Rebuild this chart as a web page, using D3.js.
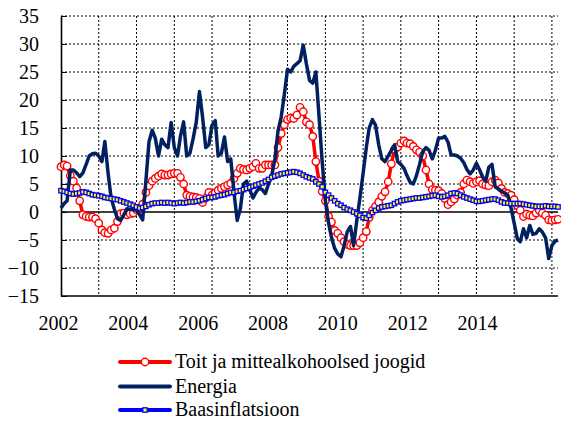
<!DOCTYPE html>
<meta charset="utf-8">
<head>
    <title>Inflatsioon</title>
</head>
<style>
    body { margin: 0; background: #fff; }
    #chart svg text { font-family: "Liberation Serif", serif !important; font-size: 20px !important; }
</style>
<div id="chart"></div>
<script src="https://d3js.org/d3.v7.min.js"></script>
<script>
    // monthly series, Jan 2002 .. Mar 2015
    var startMonth = new Date(2002, 0, 1);

    var food = [
        8.1, 8.4, 8.2, 6.5, 5.5, 4.3, 2.0, -0.5, -0.8, -0.9, -0.9, -1.2,
        -2.0, -3.2, -3.7, -3.8, -3.2, -2.9, -1.7, -0.3, -0.2, -0.5, -0.3, -0.2,
        0.4, 0.7, 1.4, 3.5, 4.7, 5.5, 6.0, 6.4, 6.8, 6.6, 6.6, 6.8,
        6.9, 6.9, 6.2, 5.0, 3.0, 2.8, 2.7, 2.6, 2.4, 1.7, 2.5, 3.5,
        3.0, 3.4, 3.9, 4.2, 4.5, 4.8, 5.1, 6.0, 6.9, 7.8, 7.6, 7.5,
        7.8, 8.1, 8.7, 7.8, 7.8, 8.4, 8.4, 8.4, 8.4, 11.5, 14.0, 15.6,
        16.5, 16.8, 16.7, 17.3, 18.7, 17.9, 16.1, 15.6, 13.5, 9.0, 5.5, 3.7,
        2.0, -0.8, -1.8, -3.3, -3.8, -4.6, -5.3, -5.8, -6.0, -6.0, -6.0, -5.5,
        -4.6, -3.5, -1.0, 0.3, 1.0, 1.8, 2.8, 3.6, 5.4, 8.6, 11.2, 11.6,
        12.3, 12.7, 12.3, 12.2, 11.7, 11.1, 10.7, 10.0, 7.5, 5.0, 4.0, 3.9,
        3.8, 3.3, 2.4, 1.3, 1.8, 2.3, 3.0, 3.5, 5.0, 5.7, 5.4, 5.1,
        5.4, 5.6, 5.0, 4.8, 4.7, 5.4, 5.7, 5.2, 4.2, 3.5, 3.3, 3.0,
        2.2, 1.2, 0.3, -0.8, -0.4, -0.6, -0.7, -0.2, 0.3, -0.2, -0.6, -1.4,
        -1.5, -1.4, -1.3
    ];

    var energy = [
        0.7, 1.5, 2.0, 7.5, 7.5, 7.0, 6.3, 7.0, 8.5, 10.0, 10.4, 10.5,
        10.0, 9.0, 12.6, 7.0, 2.5, 0.5, -1.2, -1.5, -0.5, 0.6, 0.5, 0.4,
        0.3, -0.5, -1.4, 5.5, 12.5, 14.6, 13.2, 10.0, 13.0, 12.0, 11.5, 16.0,
        11.5, 10.0, 13.5, 16.1, 10.0, 10.5, 13.0, 16.0, 21.5, 17.0, 11.5, 12.0,
        15.5, 16.3, 10.0, 10.5, 13.4, 9.0, 9.5, 3.5, -1.5, 0.5, 5.0, 5.5,
        4.0, 2.5, 3.5, 4.3, 4.0, 3.3, 5.0, 6.5, 9.5, 14.5, 17.0, 21.0,
        25.5, 25.0, 26.0, 26.5, 27.0, 29.8, 26.5, 23.5, 23.0, 25.0, 17.0, 9.0,
        2.0, -2.0, -4.5, -6.5, -7.5, -8.0, -6.0, -3.5, -2.6, -6.0, -1.5, 2.5,
        6.9, 11.5, 15.0, 16.5, 15.5, 12.0, 9.5, 9.0, 10.0, 11.0, 12.0, 9.0,
        8.5, 7.8, 6.5, 5.3, 5.0, 6.5, 8.5, 10.8, 11.5, 11.0, 9.5, 11.0,
        13.2, 13.2, 13.5, 12.5, 10.2, 10.2, 10.0, 9.6, 8.8, 7.6, 6.8, 7.5,
        8.7, 7.5, 6.3, 5.5, 8.0, 8.5, 4.5, 4.1, 3.7, 3.4, 3.0, 0.8,
        -2.0, -4.8, -5.3, -3.0, -4.6, -2.4, -4.0, -3.8, -3.0, -3.6, -4.6, -8.3,
        -6.0, -5.2, -5.0
    ];

    var core = [
        3.8, 3.7, 3.5, 3.3, 3.2, 3.3, 3.4, 3.6, 3.5, 3.3, 3.1, 3.0,
        2.9, 2.8, 2.6, 2.5, 2.4, 2.3, 2.2, 2.0, 1.8, 1.6, 1.4, 1.2,
        0.9, 0.7, 0.8, 1.0, 1.3, 1.5, 1.6, 1.6, 1.7, 1.6, 1.7, 1.6,
        1.5, 1.6, 1.7, 1.6, 1.7, 1.8, 1.8, 1.9, 2.0, 2.2, 2.4, 2.6,
        2.6, 2.7, 2.9, 3.0, 3.1, 3.3, 3.5, 3.5, 3.7, 3.8, 4.0, 4.2,
        4.4, 4.6, 4.8, 5.0, 5.2, 5.5, 5.8, 6.2, 6.4, 6.6, 6.8, 6.9,
        7.0, 7.1, 7.2, 7.1, 6.9, 6.6, 6.3, 6.1, 5.9, 5.4, 5.0, 4.5,
        3.5, 3.0, 2.5, 2.0, 1.5, 1.2, 0.8, 0.5, 0.3, 0.0, -0.3, -0.6,
        -1.0, -1.1, -0.6, -0.1, 0.3, 0.7, 0.9, 1.0, 1.1, 1.2, 1.5, 1.8,
        2.0, 2.1, 2.2, 2.3, 2.4, 2.5, 2.5, 2.6, 2.7, 2.8, 2.9, 3.0,
        2.8, 2.7, 2.8, 3.0, 3.3, 3.4, 3.3, 3.0, 2.7, 2.5, 2.3, 2.1,
        1.9, 1.9, 2.0, 2.1, 2.2, 2.3, 2.3, 2.1, 1.8, 1.6, 1.6, 1.5,
        1.5, 1.5, 1.5, 1.4, 1.3, 1.2, 1.1, 1.0, 1.0, 1.0, 1.1, 1.0,
        1.0, 1.0, 0.9
    ];

    var yTicks = [35, 30, 25, 20, 15, 10, 5, 0, -5, -10, -15];
    var xLabels = ["2002", "2004", "2006", "2008", "2010", "2012", "2014"];

    var seriesNames = ["Toit ja mittealkohoolsed joogid", "Energia", "Baasinflatsioon"];

    var months = food.map(function(d, i) { return d3.timeMonth.offset(startMonth, i); });

    var W = 561, H = 423;
    var margin = {top: 16, right: 3, bottom: 127, left: 61},
        width = W - margin.left - margin.right,
        height = H - margin.top - margin.bottom;

    var svg = d3.select("#chart")
      .append("svg")
        .attr("width", W)
        .attr("height", H);

    var g = svg.append("g")
        .attr("transform", "translate(" + margin.left + "," + margin.top + ")");

    var x = d3.scaleTime()
        .domain([months[0], months[months.length - 1]])
        .range([0, width]);

    var y = d3.scaleLinear()
        .domain([-15, 35])
        .range([height, 0]);

    // year gridlines
    g.append("g")
        .selectAll("line")
        .data(d3.timeYear.range(new Date(2003, 0, 1), months[months.length - 1]))
        .enter().append("line")
          .attr("x1", function(d) { return x(d); })
          .attr("x2", function(d) { return x(d); })
          .attr("y1", 0)
          .attr("y2", height)
          .attr("stroke", "#000")
          .attr("stroke-width", 1)
          .attr("stroke-dasharray", "2,2");

    g.append("g")
        .selectAll("line")
        .data(yTicks.filter(function(v) { return v !== 0 && v !== -15; }))
        .enter().append("line")
          .attr("x1", 0)
          .attr("x2", width)
          .attr("y1", function(d) { return y(d); })
          .attr("y2", function(d) { return y(d); })
          .attr("stroke", "#000")
          .attr("stroke-width", 1)
          .attr("stroke-dasharray", "2,2");

    // zero line
    g.append("line")
        .attr("x1", 0).attr("x2", width)
        .attr("y1", y(0)).attr("y2", y(0))
        .attr("stroke", "#000")
        .attr("stroke-width", 1.3);

    // y axis
    var yAxis = g.append("g")
        .call(d3.axisLeft(y).tickValues(yTicks).tickSizeInner(-6).tickSizeOuter(0).tickPadding(22));
    yAxis.select(".domain").attr("stroke-width", 1.6);

    // bottom frame
    g.append("line")
        .attr("x1", 0).attr("x2", width)
        .attr("y1", height).attr("y2", height)
        .attr("stroke", "#000")
        .attr("stroke-width", 1.6);

    // x labels (spread evenly, as in the original)
    var xl = d3.scalePoint().domain(xLabels).range([58 - margin.left, 477 - margin.left]);
    var xAxis = g.append("g")
        .attr("transform", "translate(0," + height + ")")
        .call(d3.axisBottom(xl).tickSize(0).tickPadding(20));
    xAxis.select(".domain").remove();

    var line = d3.line()
        .x(function(d, i) { return x(months[i]); })
        .y(function(d) { return y(d); });

    // food
    g.append("path")
        .datum(food)
        .attr("fill", "none")
        .attr("stroke", "#ff0000")
        .attr("stroke-width", 3.5)
        .attr("d", line);
    g.append("g")
        .selectAll("circle")
        .data(food)
        .enter().append("circle")
          .attr("cx", function(d, i) { return x(months[i]); })
          .attr("cy", function(d) { return y(d); })
          .attr("r", 3.7)
          .attr("fill", "#fff")
          .attr("stroke", "#ff0000")
          .attr("stroke-width", 1.4);

    // energy
    g.append("path")
        .datum(energy)
        .attr("fill", "none")
        .attr("stroke", "#002060")
        .attr("stroke-width", 3.5)
        .attr("stroke-linejoin", "round")
        .attr("d", line);

    // core
    g.append("path")
        .datum(core)
        .attr("fill", "none")
        .attr("stroke", "#0000ff")
        .attr("stroke-width", 3.5)
        .attr("d", line);
    g.append("g")
        .selectAll("rect")
        .data(core)
        .enter().append("rect")
          .attr("x", function(d, i) { return x(months[i]) - 2.2; })
          .attr("y", function(d) { return y(d) - 2.2; })
          .attr("width", 4.4)
          .attr("height", 4.4)
          .attr("fill", "#ffff00")
          .attr("stroke", "#0000ff")
          .attr("stroke-width", 1.3);

    // legend
    var colors = ["#ff0000", "#002060", "#0000ff"];
    var legend = svg.append("g")
        .attr("transform", "translate(120,362)");
    var rows = legend.selectAll("g")
        .data(seriesNames)
        .enter().append("g")
          .attr("transform", function(d, i) { return "translate(0," + [0, 24.5, 48][i] + ")"; });
    rows.append("line")
        .attr("x1", 0).attr("x2", 50)
        .attr("stroke", function(d, i) { return colors[i]; })
        .attr("stroke-width", 4)
        .attr("stroke-linecap", "round");
    rows.filter(function(d, i) { return i === 0; })
        .append("circle")
          .attr("cx", 25).attr("r", 3.7)
          .attr("fill", "#fff").attr("stroke", "#ff0000").attr("stroke-width", 1.4);
    rows.filter(function(d, i) { return i === 2; })
        .append("rect")
          .attr("x", 22.8).attr("y", -2.2).attr("width", 4.4).attr("height", 4.4)
          .attr("fill", "#ffff00").attr("stroke", "#0000ff").attr("stroke-width", 1.3);
    rows.append("text")
        .attr("x", 55)
        .attr("dy", "0.32em")
        .text(function(d) { return d; });
</script>
